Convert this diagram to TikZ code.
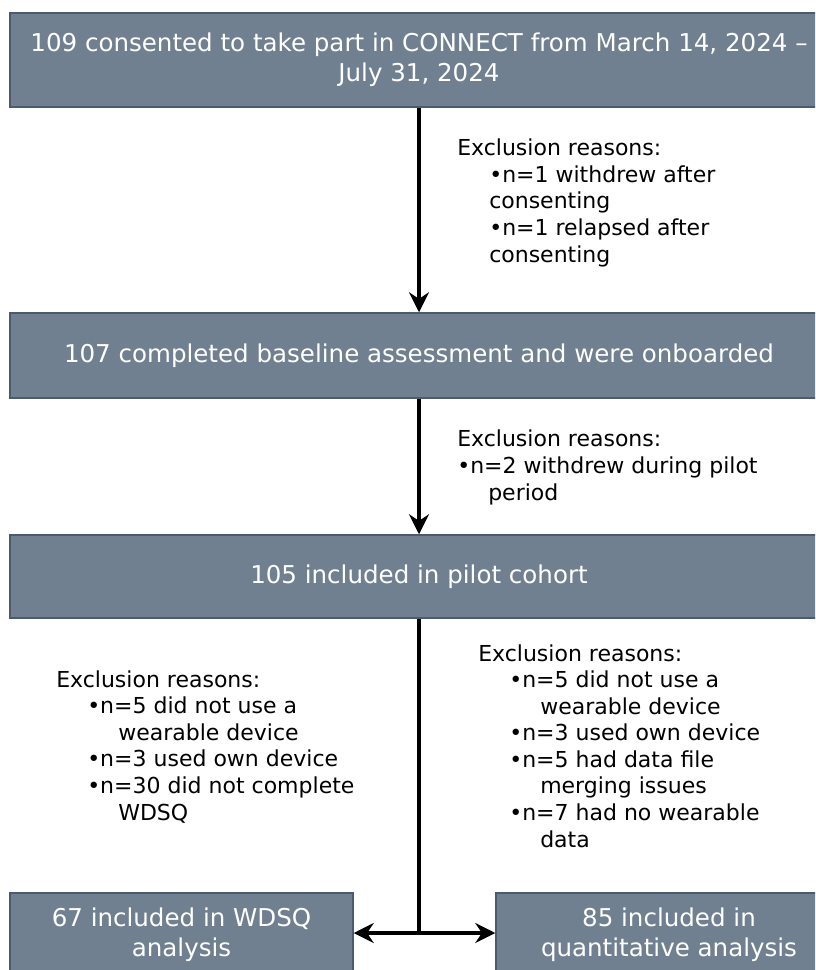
\documentclass[tikz,border=0pt]{standalone}
\usepackage{fontspec}
\setmainfont{DejaVu Sans}
\usetikzlibrary{arrows.meta}
\definecolor{boxfill}{HTML}{708090}
\definecolor{boxline}{HTML}{4B5B6B}
\begin{document}
\begin{tikzpicture}[x=0.75pt,y=-0.75pt,
  flowbox/.style={draw=boxline, line width=1.1pt, fill=boxfill, text=white,
    font=\fontsize{18.4}{22.5}\selectfont, align=center, inner sep=0pt},
  note/.style={font=\fontsize{16.5}{19.9}\selectfont, align=left, inner sep=0pt, anchor=base west},
  flow/.style={line width=2.9pt, -{Stealth[length=15pt,width=15pt,inset=5pt]}},
  flowboth/.style={line width=2.9pt, {Stealth[length=15pt,width=15pt,inset=5pt]}-{Stealth[length=15pt,width=15pt,inset=5pt]}},
  plain/.style={line width=2.9pt}]
\useasboundingbox (0,0) rectangle (815,970);
\clip (0,0) rectangle (815,970);
\fill[white] (0,0) rectangle (815,970);

\node[flowbox, minimum width=613.5pt, minimum height=70.5pt] (b1) at (419,60)
  {109 consented to take part in CONNECT from March 14, 2024 –\\July 31, 2024};
\node[flowbox, minimum width=613.5pt, minimum height=63.75pt] (b2) at (419,355.5)
  {107 completed baseline assessment and were onboarded};
\node[flowbox, minimum width=613.5pt, minimum height=62.25pt] (b3) at (419,576.5)
  {105 included in pilot cohort};
\node[flowbox, minimum width=257.25pt, minimum height=63pt] (b4) at (181.5,935)
  {67 included in WDSQ\\analysis};
\node[flowbox, minimum width=259.5pt, minimum height=63pt] (b5) at (669,935)
  {85 included in\\quantitative analysis};

\draw[flow] (b1) -- (b2);
\draw[flow] (b2) -- (b3);
\coordinate (j) at (419,933);
\draw[plain] (b3) -- (j);
\draw[flowboth] (j -| b4.east) -- (j -| b5.west);

% base anchor = baseline of the last line
\node[note] (n1) at (457,262) {Exclusion reasons:\\
\hspace*{24pt}•n=1 withdrew after\\
\hspace*{24pt}consenting\\
\hspace*{24pt}•n=1 relapsed after\\
\hspace*{24pt}consenting};

\node[note] (n2) at (457,500) {Exclusion reasons:\\
•n=2 withdrew during pilot\\
\hspace*{23.25pt}period};

\node[note] (n3) at (56,820) {Exclusion reasons:\\
\hspace*{23.25pt}•n=5 did not use a\\
\hspace*{46.5pt}wearable device\\
\hspace*{23.25pt}•n=3 used own device\\
\hspace*{23.25pt}•n=30 did not complete\\
\hspace*{46.5pt}WDSQ};

\node[note] (n4) at (478,847) {Exclusion reasons:\\
\hspace*{23.25pt}•n=5 did not use a\\
\hspace*{46.5pt}wearable device\\
\hspace*{23.25pt}•n=3 used own device\\
\hspace*{23.25pt}•n=5 had data file\\
\hspace*{46.5pt}merging issues\\
\hspace*{23.25pt}•n=7 had no wearable\\
\hspace*{46.5pt}data};
\end{tikzpicture}
\end{document}
